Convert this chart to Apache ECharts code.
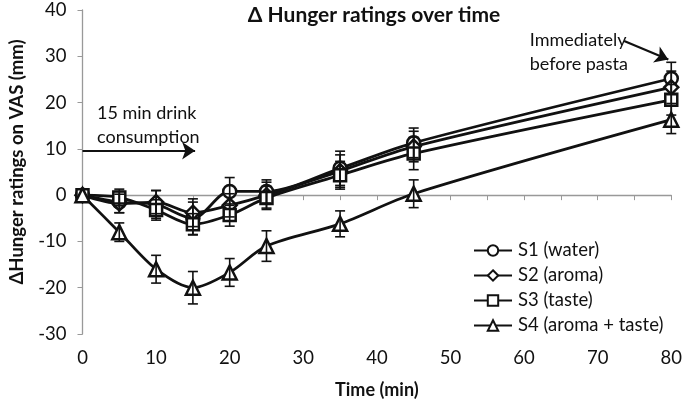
<!DOCTYPE html>
<html>
<head>
<meta charset="utf-8">
<script src="https://cdn.jsdelivr.net/npm/echarts@6/dist/echarts.min.js"></script>
<style>
html,body{margin:0;padding:0;background:#fff;}
#chart{width:685px;height:409px;}
</style>
</head>
<body>
<div id="chart"></div>
<script>
// ---- data ----
var times = [0, 5, 10, 15, 20, 25, 35, 45, 80];
var seriesNames = ['S1 (water)', 'S2 (aroma)', 'S3 (taste)', 'S4 (aroma + taste)'];
var s1 = [0, -1.5, -2.0, -5.0, 0.8, 0.8, 5.8, 11.3, 25.2];
var s2 = [0, -1.8, -1.5, -3.8, -2.2, 0.0, 5.2, 10.5, 23.3];
var s3 = [0, -0.5, -3.2, -6.3, -4.3, -0.6, 4.3, 9.0, 20.6];
var s4 = [0, -8.0, -16.0, -20.0, -16.7, -11.0, -6.2, 0.3, 16.3];
var e1 = [0, 2.3, 3.0, 3.5, 3.0, 2.5, 3.7, 3.2, 3.5];
var e2 = [0, 2.0, 2.5, 3.0, 2.5, 2.8, 3.5, 3.3, 3.5];
var e3 = [0, 1.8, 2.2, 2.3, 2.4, 2.5, 3.0, 3.5, 3.3];
var e4 = [0, 2.0, 3.0, 3.5, 3.0, 3.3, 2.8, 3.0, 3.0];
var yTicks = [-30, -20, -10, 0, 10, 20, 30, 40];
var xTicks = [0, 10, 20, 30, 40, 50, 60, 70, 80];

var values = [s1, s2, s3, s4];
var errors = [e1, e2, e3, e4];
var symbols = ['circle', 'diamond', 'rect', 'triangle'];
var symbolSizes = [13, 14, 12, 14];

var FONT = 'Lato, "Open Sans", sans-serif';
var INK = '#111';

var chart = echarts.init(document.getElementById('chart'));

var series = [];
values.forEach(function (vals, i) {
  series.push({
    name: seriesNames[i],
    type: 'line',
    xAxisIndex: 0,
    yAxisIndex: 0,
    smooth: 0.3,
    data: times.map(function (t, k) { return [t, vals[k]]; }),
    symbol: symbols[i],
    symbolSize: symbolSizes[i],
    showAllSymbol: true,
    lineStyle: { color: INK, width: 2.8 },
    itemStyle: { color: '#fff', borderColor: INK, borderWidth: 2.5 },
    z: 3,
    animation: false
  });
});

values.forEach(function (vals, i) {
  series.push({
    type: 'custom',
    xAxisIndex: 0,
    yAxisIndex: 0,
    data: times.map(function (t, k) { return [t, vals[k] - errors[i][k], vals[k] + errors[i][k]]; }),
    renderItem: function (params, api) {
      var lo = api.coord([api.value(0), api.value(1)]);
      var hi = api.coord([api.value(0), api.value(2)]);
      if (Math.abs(lo[1] - hi[1]) < 0.5) return;
      var w = 5;
      var st = { stroke: INK, lineWidth: 1.6 };
      return {
        type: 'group',
        children: [
          { type: 'line', shape: { x1: lo[0], y1: lo[1], x2: hi[0], y2: hi[1] }, style: st },
          { type: 'line', shape: { x1: lo[0] - w, y1: lo[1], x2: lo[0] + w, y2: lo[1] }, style: st },
          { type: 'line', shape: { x1: hi[0] - w, y1: hi[1], x2: hi[0] + w, y2: hi[1] }, style: st }
        ]
      };
    },
    z: 4,
    silent: true,
    animation: false
  });
});

// annotation arrows (data coordinates)
series.push({
  type: 'line',
  xAxisIndex: 0,
  yAxisIndex: 0,
  data: [],
  silent: true,
  markLine: {
    silent: true,
    animation: false,
    symbol: ['none', 'arrow'],
    symbolSize: [13, 13],
    label: { show: false },
    lineStyle: { color: INK, width: 2.2, type: 'solid' },
    data: [
      [{ coord: [0, 9.6] }, { coord: [15.3, 9.6] }],
      [{ coord: [73.6, 33.3] }, { coord: [79.6, 29.3] }]
    ]
  }
});

var option = {
  backgroundColor: '#fff',
  animation: false,
  title: {
    text: 'Δ Hunger ratings over time',
    left: 369,
    textAlign: 'center',
    top: 0,
    textStyle: { fontFamily: FONT, fontWeight: 'bold', fontSize: 21, color: INK }
  },
  grid: { left: 82.5, right: 10, top: 10, bottom: 75, containLabel: false },
  legend: {
    orient: 'vertical',
    left: 468,
    top: 236,
    itemWidth: 38,
    itemHeight: 13,
    itemGap: 6,
    data: seriesNames,
    textStyle: { fontFamily: FONT, fontSize: 18.5, color: INK, padding: [0, 0, 0, 1] }
  },
  xAxis: [
    {
      type: 'value', min: 0, max: 80, interval: 5,
      axisLine: { show: true, onZero: true, lineStyle: { color: '#999', width: 1.3 } },
      axisTick: { show: true, length: 5, lineStyle: { color: '#999' } },
      axisLabel: { show: false },
      splitLine: { show: false }
    },
    {
      type: 'value', min: 0, max: 80, interval: 10, position: 'bottom',
      axisLine: { show: false, onZero: false },
      axisTick: { show: false },
      axisLabel: { show: true, margin: 15, fontFamily: FONT, fontSize: 18.5, color: INK,
        formatter: function (v) { return xTicks.indexOf(v) >= 0 ? String(v) : ''; } },
      splitLine: { show: false },
      name: 'Time (min)',
      nameLocation: 'middle',
      nameGap: 47,
      nameTextStyle: { fontFamily: FONT, fontWeight: 'bold', fontSize: 18, color: INK }
    }
  ],
  yAxis: {
    type: 'value', min: -30, max: 40, interval: 10,
    axisLine: { show: true, lineStyle: { color: '#999', width: 1.3 } },
    axisTick: { show: true, length: 5, lineStyle: { color: '#999' } },
    axisLabel: { margin: 16, fontFamily: FONT, fontSize: 18.5, color: INK,
      formatter: function (v) { return yTicks.indexOf(v) >= 0 ? String(v) : ''; } },
    splitLine: { show: false }
  },
  graphic: [
    {
      type: 'text', x: 17, y: 162, rotation: Math.PI / 2, silent: true,
      style: { text: 'ΔHunger ratings on VAS (mm)', font: 'bold 18.5px ' + FONT, fill: INK,
        align: 'center', verticalAlign: 'middle' }
    },
    {
      type: 'text', left: 97, top: 101, silent: true,
      style: { text: '15 min drink\nconsumption', font: '18px ' + FONT, fill: INK, lineHeight: 24 }
    },
    {
      type: 'text', right: 57, top: 28, silent: true,
      style: { text: 'Immediately\nbefore pasta', font: '18px ' + FONT, fill: INK, lineHeight: 24, align: 'right' }
    }
  ],
  series: series
};
chart.setOption(option);
</script>
</body>
</html>
